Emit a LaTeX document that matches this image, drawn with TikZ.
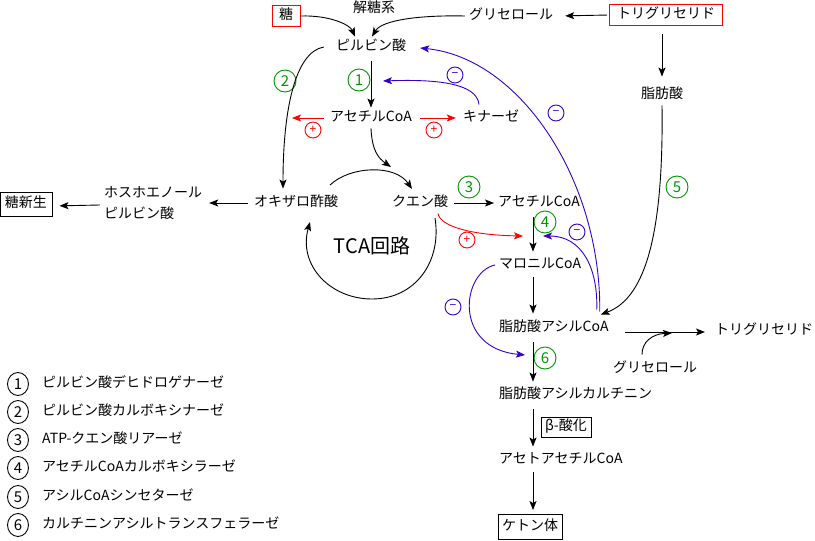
\documentclass[tikz,border=0pt]{standalone}
\usepackage{fontspec}
\setmainfont{Noto Sans CJK JP}
\usetikzlibrary{arrows.meta,shapes.geometric}
\definecolor{mygreen}{RGB}{0,150,0}
\definecolor{myblue}{RGB}{51,0,204}
\definecolor{myred}{RGB}{255,0,0}
\newcommand{\fsj}{\fontsize{14}{21}\selectfont}
\begin{document}
\begin{tikzpicture}[x=1pt,y=-1pt,
  jt/.style={font=\fsj, inner sep=4pt, text height=10pt, text depth=2.5pt},
  bx/.style={jt, draw, inner sep=3pt, line width=0.9pt, minimum height=21pt},
  ar/.style={line width=0.9pt, -{Stealth[length=9pt,width=7pt,inset=2pt]}},
  gnum/.style={circle, draw=mygreen, text=mygreen, minimum size=22pt, inner sep=0pt, line width=0.9pt, font=\fontsize{15}{15}\selectfont},
  knum/.style={ellipse, draw=black, minimum width=21pt, minimum height=23pt, inner sep=0pt, line width=0.9pt, font=\fontsize{15}{15}\selectfont},
  bminus/.style={circle, draw=myblue, text=myblue, minimum size=16pt, inner sep=0pt, line width=0.9pt, font=\fontsize{12}{12}\selectfont},
  rplus/.style={circle, draw=myred, text=myred, minimum size=16pt, inner sep=0pt, line width=0.9pt, font=\fontsize{12}{12}\selectfont},
  legtxt/.style={jt, anchor=west}
]
\useasboundingbox (0,0) rectangle (815,541);
\coordinate (col) at (533,0);

% nodes
\node[bx, draw=myred, minimum width=28pt] (sugar) at (286,16) {糖};
\node[jt] (glylbl) at (374,9) {解糖系};
\node[jt] (glyc1) at (511,16) {グリセロール};
\node[bx, draw=myred, minimum width=113pt, minimum height=21pt] (tg1) at (666,15) {トリグリセリド};
\node[jt] (pyr) at (371,47) {ピルビン酸};
\node[jt] (fa) at (662,95) {脂肪酸};
\node[jt] (acoa1) at (371,118) {アセチルCoA};
\node[jt] (kinase) at (491,118) {キナーゼ};
\node[jt] (oaa) at (296,203) {オキザロ酢酸};
\node[jt, align=left, text height=, text depth=] (pep) at (153,203) {ホスホエノール\\ピルビン酸};
\node[bx, minimum width=52pt, minimum height=24pt] (gng) at (26,204) {糖新生};
\node[jt] (cit) at (420,203) {クエン酸};
\node[font=\fontsize{20}{20}\selectfont] (tca) at (372,246) {TCA回路};
\node[jt, anchor=west] (acoa2) at (494,203) {アセチルCoA};
\node[jt, anchor=west] (mal) at (495,265) {マロニルCoA};
\node[jt, anchor=west] (facoa) at (495,328) {脂肪酸アシルCoA};
\node[jt, anchor=west] (tg2) at (711,331) {トリグリセリド};
\node[jt] (glyc2) at (655,369) {グリセロール};
\node[jt, anchor=west] (facar) at (495,395) {脂肪酸アシルカルチニン};
\node[bx, minimum width=50pt, minimum height=20pt] (beta) at (566,427) {β-酸化};
\node[jt, anchor=west] (aacoa) at (495,460) {アセトアセチルCoA};
\node[bx, minimum width=64pt, minimum height=25pt] (ket) at (530,527) {ケトン体};

% enzyme marks
\node[gnum] (e1) at (359,80) {1};
\node[gnum] (e2) at (285,81) {2};
\node[gnum] (e3) at (469,187) {3};
\node[gnum] (e4) at (545,222) {4};
\node[gnum] (e5) at (677,187) {5};
\node[gnum] (e6) at (545,358) {6};
\node[bminus] (m1) at (455,75) {−};
\node[bminus] (m2) at (556,113) {−};
\node[bminus] (m3) at (577,232) {−};
\node[bminus] (m4) at (453,307) {−};
\node[rplus] (p1) at (313,130) {+};
\node[rplus] (p2) at (434,130) {+};
\node[rplus] (p3) at (467,240) {+};

% free-end coordinates
\coordinate (inh1) at (383,81);
\coordinate (r1) at (292,118);
\coordinate (citin) at (391,167);
\coordinate (tcaA) at (330,185);
\coordinate (tcaB) at (412,189);
\coordinate (tcaC) at (435,218);
\coordinate (tcaD) at (310,222);
\coordinate (r2) at (523,236);
\coordinate (inh3) at (543,236);
\coordinate (inh4) at (525,355);
\coordinate (tgmid) at (672,333);

% black connectors
\draw[ar] (sugar.east) .. controls (330,15) and (350,25) .. ([xshift=-16pt]pyr.north);
\draw[ar] (glyc1.west) .. controls (420,15) and (382,20) .. ([xshift=1pt]pyr.north);
\draw[ar, shorten >=8pt, shorten <=2pt] (tg1.west) -- (glyc1.east);
\draw[ar, shorten <=8pt, shorten >=8pt] (tg1.south -| fa) -- (fa.north);
\draw[ar] (fa.south) .. controls (664,250) and (640,300) .. ([xshift=-12pt,yshift=3pt]facoa.north east);
\draw[ar, shorten <=4pt] (pyr.south) -- (acoa1.north);
\draw[ar] ([xshift=-8pt]pyr.west) .. controls (295,52) and (283,110) .. ([xshift=-13pt,yshift=4pt]oaa.north);
\draw[ar] (acoa1.south) .. controls (372,150) and (378,158) .. (citin);
\draw[ar] (tcaA) .. controls (350,166) and (395,164) .. (tcaB);
\draw[ar] (tcaC) .. controls (442,262) and (415,299) .. (372,299) .. controls (330,299) and (298,265) .. (tcaD);
\draw[ar, shorten <=2pt, shorten >=3pt] (oaa.west) -- (pep.east);
\draw[ar, shorten >=7pt] ([yshift=-2pt]pep.west) -- ([yshift=-2pt]gng.east);
\draw[ar, shorten <=2pt] (cit.east) -- (acoa2.west);
\draw[ar, shorten <=4pt, shorten >=3pt] (acoa2.south -| col) -- (mal.north -| col);
\draw[ar, shorten <=2pt, shorten >=4pt] (mal.south -| col) -- (facoa.north -| col);
\draw[ar, shorten <=4pt, shorten >=3pt] (facoa.south -| col) -- (facar.north -| col);
\draw[ar, shorten <=4pt, shorten >=3pt] (facar.south -| col) -- (aacoa.north -| col);
\draw[ar, shorten <=2pt, shorten >=4pt] (aacoa.south -| col) -- (ket.north -| col);
\draw[ar, shorten <=12pt, shorten >=6pt] ([yshift=-4pt]facoa.east) -- ([yshift=-1pt]tg2.west);
\draw[ar] ([xshift=-13pt,yshift=4pt]glyc2.north) .. controls (642,342) and (652,334) .. (tgmid);

% red connectors
\draw[ar, myred, shorten <=2pt] (acoa1.west) -- (r1);
\draw[ar, myred, shorten <=4pt, shorten >=3pt] (acoa1.east) -- (kinase.west);
\draw[ar, myred] ([xshift=18pt]cit.south) .. controls (440,226) and (470,235) .. (r2);

% blue connectors
\draw[ar, myblue] ([xshift=-12pt,yshift=3pt]kinase.north) .. controls (477,84) and (440,79) .. (inh1);
\draw[ar, myblue, shorten >=10pt] ([xshift=-13pt,yshift=6pt]facoa.north east) .. controls (601,180) and (520,58) .. (pyr.east);
\draw[ar, myblue] ([xshift=-16pt,yshift=8pt]facoa.north east) .. controls (598,268) and (582,236) .. (inh3);
\draw[ar, myblue] (mal.west) .. controls (462,272) and (452,348) .. (inh4);

% legend
\node[knum] (k1) at (18,384) {1};
\node[knum] (k2) at (18,412) {2};
\node[knum] (k3) at (18,440) {3};
\node[knum] (k4) at (18,468) {4};
\node[knum] (k5) at (18,497) {5};
\node[knum] (k6) at (18,525) {6};
\node[legtxt] (l1) at (38,384) {ピルビン酸デヒドロゲナーゼ};
\node[legtxt] (l2) at (38,412) {ピルビン酸カルボキシナーゼ};
\node[legtxt] (l3) at (38,440) {ATP-クエン酸リアーゼ};
\node[legtxt] (l4) at (38,468) {アセチルCoAカルボキシラーゼ};
\node[legtxt] (l5) at (38,497) {アシルCoAシンセターゼ};
\node[legtxt] (l6) at (38,525) {カルチニンアシルトランスフェラーゼ};
\end{tikzpicture}
\end{document}
